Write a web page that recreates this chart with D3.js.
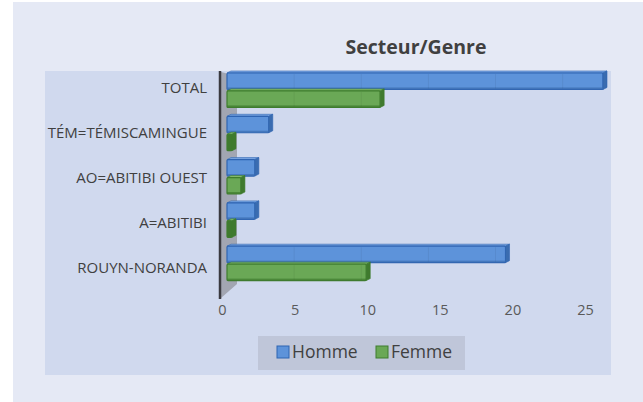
<!DOCTYPE html>
<html><head><meta charset="utf-8">
<script src="https://cdn.jsdelivr.net/npm/d3@7"></script>
<style>html,body{margin:0;padding:0;background:#fff;}svg{display:block;}</style>
</head><body>
<script>
const categories = ["TOTAL", "TÉM=TÉMISCAMINGUE", "AO=ABITIBI OUEST", "A=ABITIBI", "ROUYN-NORANDA"];
const homme = [27, 3, 2, 2, 20];
const femme = [11, 0, 1, 0, 10];
const seriesNames = ["Homme", "Femme"];
const tickValues = [0, 5, 10, 15, 20, 25];
const title = "Secteur/Genre";

const W = 643, H = 402;
const FONT = "'Open Sans', sans-serif";
const svg = d3.select("body").append("svg").attr("width", W).attr("height", H);

// backgrounds
svg.append("rect").attr("x", 13).attr("y", 2).attr("width", W - 13).attr("height", H - 2).attr("fill", "#e5e9f5");
svg.append("rect").attr("x", 45).attr("y", 71).attr("width", 566).attr("height", 304).attr("fill", "#d0d9ee");

// title
svg.append("text").attr("x", 416).attr("y", 54).attr("text-anchor", "middle")
  .attr("font-family", FONT).attr("font-weight", "bold").attr("font-size", 19.5)
  .attr("fill", "#404040").text(title);

// scales
const xAxisScale = d3.scaleLinear().domain([0, 25]).range([222, 585]);   // tick labels (floor front edge)
const xBar = d3.scaleLinear().domain([0, 27]).range([227, 603]);          // bar front faces
const yBand = d3.scaleBand().domain(categories).range([68.3, 284.8]).paddingInner(0.17).paddingOuter(0.085);
const yInner = d3.scaleBand().domain(seriesNames).range([0, yBand.bandwidth()]).padding(0);
const yLabel = d3.scalePoint().domain(categories).range([88, 268]);

// left wall
svg.append("polygon").attr("points", "221,72 237,76 237,284 221,298").attr("fill", "#a2a6b2");
svg.append("line").attr("x1", 220).attr("x2", 220).attr("y1", 71).attr("y2", 299)
  .attr("stroke", "#3a3a40").attr("stroke-width", 2.5);

// bars
const colors = {
  Homme: {face: "#5d93da", top: "#7aa6e2", side: "#3a6cb0", stroke: "#2f64b2"},
  Femme: {face: "#6aa856", top: "#85bb70", side: "#3f7a2e", stroke: "#3e7d2e"}
};
const d = 4;
const data = [];
categories.forEach((c, i) => {
  data.push({cat: c, s: "Homme", v: homme[i]});
  data.push({cat: c, s: "Femme", v: femme[i]});
});
const g = svg.append("g");
data.forEach(o => {
  const col = colors[o.s];
  const y0 = yBand(o.cat) + yInner(o.s) + 1;
  const h = yInner.bandwidth() - 1.5;
  const x0 = xBar(0), x1 = Math.max(xBar(o.v), x0 + 5);
  g.append("polygon").attr("points", `${x0},${y0} ${x0 + d},${y0 - d * 0.5} ${x1 + d},${y0 - d * 0.5} ${x1},${y0}`)
    .attr("fill", col.top).attr("stroke", col.stroke).attr("stroke-width", 0.6);
  g.append("rect").attr("x", x0).attr("y", y0).attr("width", x1 - x0).attr("height", h)
    .attr("fill", o.v === 0 ? col.side : col.face).attr("stroke", col.stroke).attr("stroke-width", 1.2).attr("rx", 1);
  g.append("polygon").attr("points", `${x1},${y0} ${x1 + d},${y0 - d * 0.5} ${x1 + d},${y0 + h - d * 0.5} ${x1},${y0 + h}`)
    .attr("fill", col.side).attr("stroke", col.stroke).attr("stroke-width", 0.6);
  g.append("rect").attr("x", x0).attr("y", y0 + h - 2).attr("width", x1 - x0).attr("height", 2)
    .attr("fill", col.side).attr("opacity", 0.7);
  [5, 10, 15, 20, 25].forEach(t => {
    const gx = xBar(t) - (t * 0.5);
    if (gx < x1 - 2) {
      g.append("line").attr("x1", gx).attr("x2", gx).attr("y1", y0 + 1).attr("y2", y0 + h - 1)
        .attr("stroke", "#000").attr("stroke-opacity", 0.06);
    }
  });
});

// category labels
svg.append("g").selectAll("text").data(categories).join("text")
  .attr("x", 207).attr("y", c => yLabel(c)).attr("dy", "0.35em").attr("text-anchor", "end")
  .attr("font-family", FONT).attr("font-size", 15).attr("fill", "#404040").text(c => c);

// x axis labels
const axis = d3.axisBottom(xAxisScale).tickValues(tickValues).tickSize(0).tickPadding(0);
const ax = svg.append("g").attr("transform", "translate(0,305)").call(axis);
ax.select(".domain").remove();
ax.selectAll("text").attr("font-family", FONT).attr("font-size", 14.5).attr("fill", "#595959");

// legend
svg.append("rect").attr("x", 258).attr("y", 336).attr("width", 207).attr("height", 34).attr("fill", "#bfc6d9");
const leg = svg.append("g").selectAll("g").data(seriesNames).join("g")
  .attr("transform", (s, i) => `translate(${i === 0 ? 277 : 376},346)`);
leg.append("rect").attr("width", 12).attr("height", 12)
  .attr("fill", s => colors[s].face).attr("stroke", s => colors[s].stroke).attr("stroke-width", 1);
leg.append("text").attr("x", 15).attr("y", 6).attr("dy", "0.36em")
  .attr("font-family", FONT).attr("font-size", 17.5).attr("fill", "#404040").text(s => s);
</script>
</body></html>
